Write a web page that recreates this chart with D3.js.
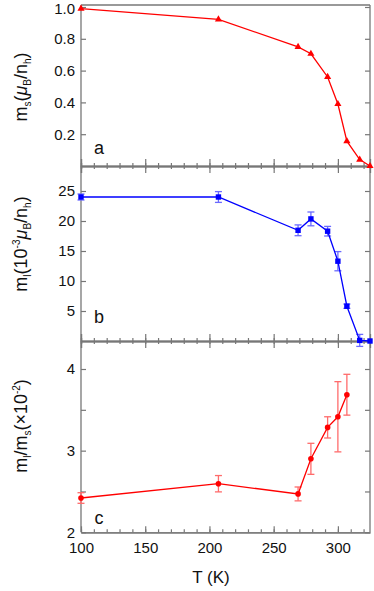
<!DOCTYPE html>
<html>
<head>
<meta charset="utf-8">
<script src="https://cdn.jsdelivr.net/npm/d3@7"></script>
<style>
    body { margin: 0; background: #fff; }
    svg text { font-family: "Liberation Sans", Arial, sans-serif; fill: #111; }
</style>
</head>
<body>
<div id="chart"></div>
<script>
// data
var temps = [100, 207, 269, 279, 292, 300, 307, 317, 325];
var msVals = [0.99, 0.922, 0.749, 0.706, 0.56, 0.39, 0.156, 0.04, 0.0];
var mlVals = [24.0, 24.0, 18.45, 20.35, 18.3, 13.3, 5.8, 0.1, 0.0];
var mlErr = [0.5, 0.9, 0.9, 1.15, 0.8, 1.6, 0.36, 1.0, 0];
var ratioTemps = [100, 207, 269, 279, 292, 300, 307];
var ratioVals = [2.42, 2.595, 2.47, 2.9, 3.285, 3.415, 3.685];
var ratioErr = [0.065, 0.1, 0.085, 0.19, 0.13, 0.43, 0.25];

var xTicks = [100, 150, 200, 250, 300];
var ticksA = [0.2, 0.4, 0.6, 0.8, 1.0];
var ticksB = [5, 10, 15, 20, 25];
var ticksC = [2, 3, 4];

function drawChart() {
    var w = 374, h = 591;
    var left = 81, right = 370;
    var axisCol = "#777";

    var svg = d3.select("#chart").append("svg")
        .attr("width", w).attr("height", h);

    var x = d3.scaleLinear().domain([100, 325]).range([left, right]);

    // panel y ranges: a 5-166, b 166-341, c 341-532
    var yA = d3.scaleLinear().domain([0, 1]).range([166, 7]);
    var yB = d3.scaleLinear().domain([0, 25]).range([341, 191]);
    var yC = d3.scaleLinear().domain([2, 4]).range([532.3, 369]);

    var minorX = d3.range(100, 326, 10);

    function styleAxis(g) {
        g.select(".domain").attr("stroke", axisCol).attr("stroke-width", 1.3);
        g.selectAll(".tick line").attr("stroke", axisCol).attr("stroke-width", 1.2);
        g.selectAll(".tick text").style("font-size", "15px").attr("fill", "#111");
    }

    // frame lines
    svg.append("line").attr("x1", left).attr("x2", right)
        .attr("y1", 5).attr("y2", 5)
        .attr("stroke", axisCol).attr("stroke-width", 1.3);
    svg.append("line").attr("x1", left).attr("x2", left)
        .attr("y1", 5).attr("y2", 532.3)
        .attr("stroke", axisCol).attr("stroke-width", 1.3);
    svg.append("line").attr("x1", right).attr("x2", right)
        .attr("y1", 5).attr("y2", 532.3)
        .attr("stroke", axisCol).attr("stroke-width", 1.3);

    // shared horizontal axes with crossing ticks
    [166, 341].forEach(function (yy) {
        svg.append("g").attr("transform", `translate(0,${yy})`)
            .call(d3.axisBottom(x).tickValues(minorX).tickSize(3).tickFormat(""))
            .call(styleAxis);
        svg.append("g").attr("transform", `translate(0,${yy})`)
            .call(d3.axisTop(x).tickValues(minorX).tickSize(3).tickFormat(""))
            .call(styleAxis);
        svg.append("g").attr("transform", `translate(0,${yy})`)
            .call(d3.axisBottom(x).tickValues(xTicks).tickSize(7).tickFormat(""))
            .call(styleAxis);
        svg.append("g").attr("transform", `translate(0,${yy})`)
            .call(d3.axisTop(x).tickValues(xTicks).tickSize(7).tickFormat(""))
            .call(styleAxis);
    });

    // bottom axis, ticks inward
    svg.append("g").attr("transform", "translate(0,532.3)")
        .call(d3.axisBottom(x).tickValues(minorX).tickSizeInner(-3).tickSizeOuter(0).tickFormat(""))
        .call(styleAxis);
    svg.append("g").attr("transform", "translate(0,532.3)")
        .call(d3.axisBottom(x).tickValues(xTicks).tickSizeInner(-6).tickSizeOuter(0).tickPadding(10))
        .call(styleAxis);

    // y axes
    function yAxes(scale, ticks, minor, fmt) {
        var g = svg.append("g").attr("transform", `translate(${left},0)`)
            .call(d3.axisLeft(scale).tickValues(ticks).tickSizeInner(-5).tickSizeOuter(0).tickPadding(6).tickFormat(fmt))
            .call(styleAxis);
        g.select(".domain").remove();
        svg.append("g").attr("transform", `translate(${right},0)`)
            .call(d3.axisLeft(scale).tickValues(ticks.concat(minor)).tickSize(5).tickFormat(""))
            .call(styleAxis)
            .select(".domain").remove();
        if (minor.length) {
            svg.append("g").attr("transform", `translate(${left},0)`)
                .call(d3.axisLeft(scale).tickValues(minor).tickSizeInner(-5).tickSizeOuter(0).tickFormat(""))
                .call(styleAxis)
                .select(".domain").remove();
        }
        return g;
    }
    var gA = yAxes(yA, ticksA, [], d3.format(".1f"));
    // keep the top label inside the page
    gA.selectAll(".tick text").filter(d => d === 1).attr("dy", "0.42em");
    yAxes(yB, ticksB, [], d3.format("d"));
    yAxes(yC, ticksC, [2.5, 3.5], d3.format("d"));

    // panel a: triangles
    var red = "#ff0000", blue = "#0000ff";
    var dataA = temps.map((t, i) => ({ t: t, v: msVals[i] }));
    var lineA = d3.line().x(d => x(d.t)).y(d => yA(d.v));
    svg.append("path").datum(dataA)
        .attr("fill", "none").attr("stroke", red).attr("stroke-width", 1.3)
        .attr("d", lineA);
    svg.selectAll(".triA").data(dataA).enter().append("path")
        .attr("transform", d => `translate(${x(d.t)},${yA(d.v)})`)
        .attr("d", d3.symbol().type(d3.symbolTriangle).size(22))
        .attr("fill", red);

    // error bars helper
    function errorBars(data, y, col) {
        var g = svg.append("g").attr("stroke", col).attr("stroke-width", 1.3);
        data.filter(d => d.e > 0).forEach(function (d) {
            var cx = x(d.t), y0 = y(d.v - d.e), y1 = y(d.v + d.e);
            g.append("line").attr("x1", cx).attr("x2", cx).attr("y1", y0).attr("y2", y1);
            g.append("line").attr("x1", cx - 3.5).attr("x2", cx + 3.5).attr("y1", y0).attr("y2", y0);
            g.append("line").attr("x1", cx - 3.5).attr("x2", cx + 3.5).attr("y1", y1).attr("y2", y1);
        });
    }

    // panel b: squares
    var dataB = temps.map((t, i) => ({ t: t, v: mlVals[i], e: mlErr[i] }));
    errorBars(dataB, yB, "#6b6bff");
    svg.append("path").datum(dataB)
        .attr("fill", "none").attr("stroke", blue).attr("stroke-width", 1.3)
        .attr("d", d3.line().x(d => x(d.t)).y(d => yB(d.v)));
    svg.selectAll(".sqB").data(dataB).enter().append("rect")
        .attr("x", d => x(d.t) - 2.7).attr("y", d => yB(d.v) - 2.7)
        .attr("width", 5.4).attr("height", 5.4)
        .attr("fill", blue);

    // panel c: circles
    var dataC = ratioTemps.map((t, i) => ({ t: t, v: ratioVals[i], e: ratioErr[i] }));
    errorBars(dataC, yC, "#ff6b6b");
    svg.append("path").datum(dataC)
        .attr("fill", "none").attr("stroke", red).attr("stroke-width", 1.3)
        .attr("d", d3.line().x(d => x(d.t)).y(d => yC(d.v)));
    svg.selectAll(".dotC").data(dataC).enter().append("circle")
        .attr("cx", d => x(d.t)).attr("cy", d => yC(d.v))
        .attr("r", 2.8).attr("fill", red);

    // panel letters
    [["a", 148], ["b", 317], ["c", 518]].forEach(function (p) {
        svg.append("text").attr("x", 99).attr("y", p[1])
            .attr("text-anchor", "middle").attr("dominant-baseline", "central")
            .style("font-size", "18px").text(p[0]);
    });

    // rich text helper for axis titles
    function richTitle(cx, cy, parts) {
        var t = svg.append("text")
            .attr("transform", `translate(${cx},${cy}) rotate(-90)`)
            .attr("text-anchor", "middle")
            .style("font-size", "18px");
        var shift = 0;
        parts.forEach(function (p) {
            var s = p[0], kind = p[1] || "";
            var target = kind === "sub" ? 4 : kind === "sup" ? -7 : 0;
            var ts = t.append("tspan").attr("dy", target - shift).text(s);
            shift = target;
            if (kind === "sub" || kind === "sup") ts.style("font-size", "10px");
            if (kind === "it") ts.style("font-style", "italic");
        });
    }

    richTitle(27, 87, [["m"], ["s", "sub"], ["("], ["μ", "it"], ["B", "sub"], ["/n"], ["h", "sub"], [")"]]);
    richTitle(27, 244, [["m"], ["l", "sub"], ["(10"], ["-3", "sup"], ["μ", "it"], ["B", "sub"], ["/n"], ["h", "sub"], [")"]]);
    richTitle(27, 426, [["m"], ["l", "sub"], ["/m"], ["s", "sub"], ["(×10"], ["-2", "sup"], [")"]]);

    svg.append("text").attr("x", 211).attr("y", 583)
        .attr("text-anchor", "middle")
        .style("font-size", "17px").text("T (K)");
}

drawChart();
</script>
</body>
</html>
